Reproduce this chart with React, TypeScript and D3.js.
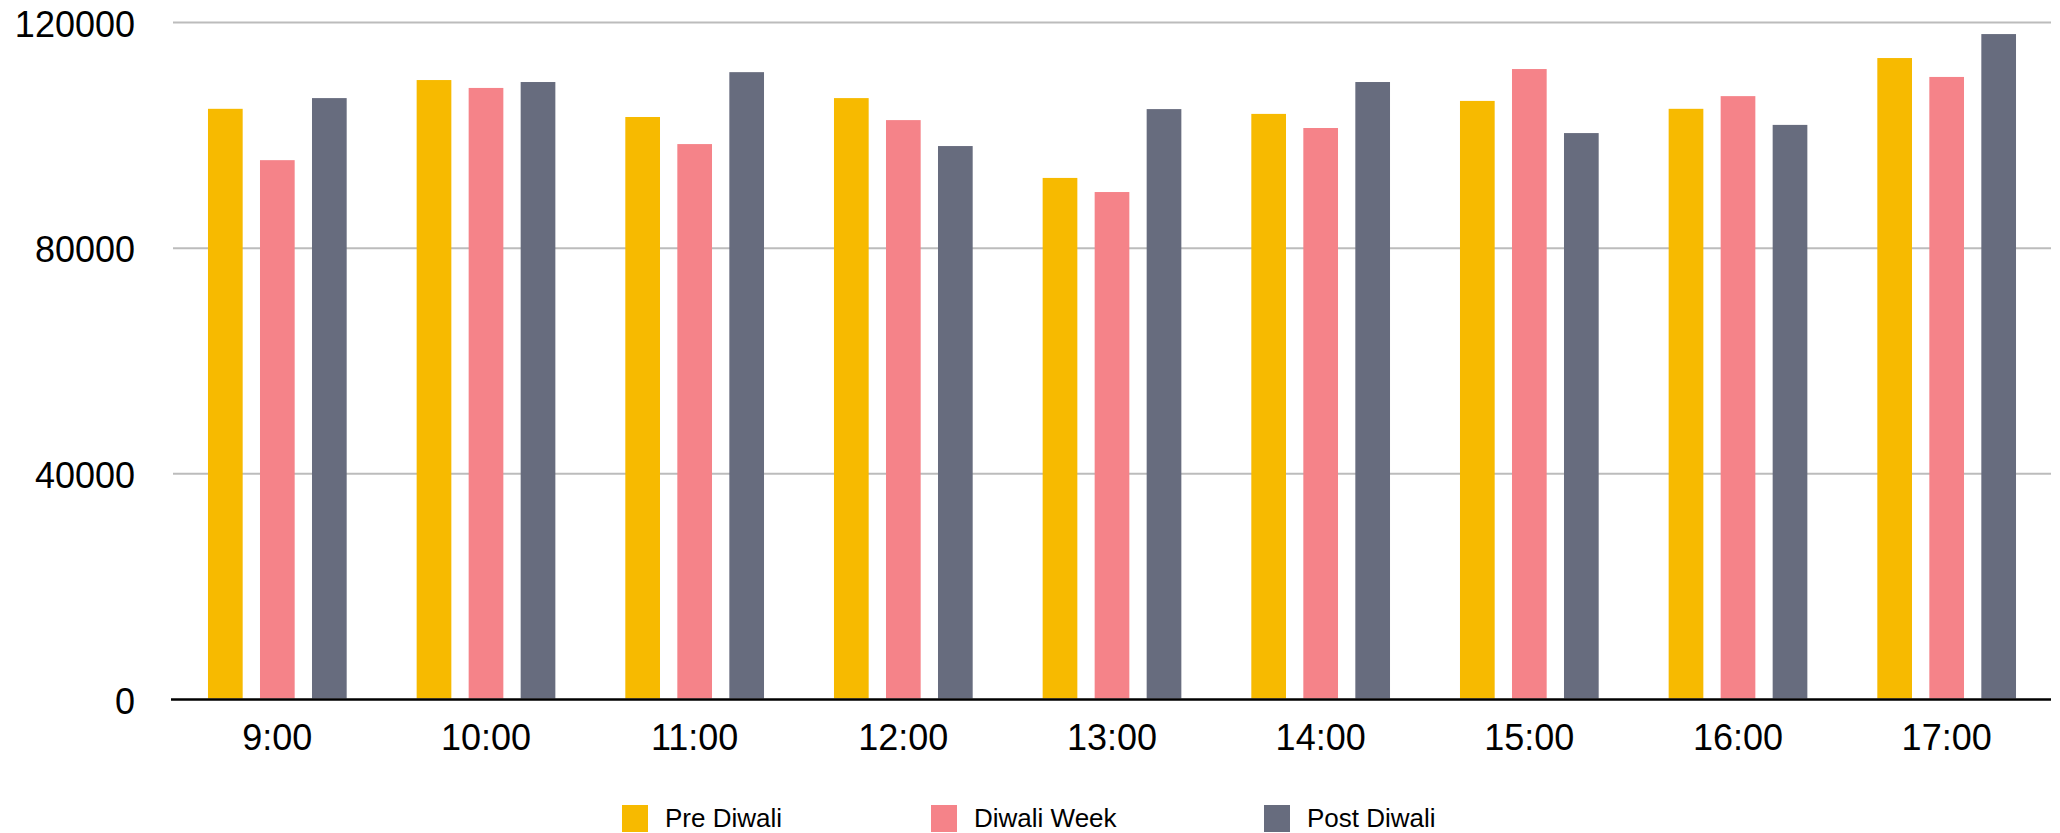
import React from "react";
import * as d3 from "d3";

const categories = ["9:00", "10:00", "11:00", "12:00", "13:00", "14:00", "15:00", "16:00", "17:00"];
const seriesNames = ["Pre Diwali", "Diwali Week", "Post Diwali"];
const preDiwali = [104700, 109800, 103250, 106600, 92450, 103800, 106100, 104700, 113700];
const diwaliWeek = [95600, 108400, 98450, 102700, 89950, 101300, 111750, 106950, 110350];
const postDiwali = [106600, 109450, 111200, 98100, 104650, 109450, 100400, 101850, 117950];
const yTicks = [0, 40000, 80000, 120000];
const colors = ["#F7BA00", "#F58389", "#676C7E"];

const W = 2060;
const H = 833;
const plotLeft = 173;
const plotRight = 2051;
const yTop = 22.5;
const yBottom = 699.5;

export default function App() {
  const seriesValues = [preDiwali, diwaliWeek, postDiwali];
  const x0 = d3.scaleBand<string>().domain(categories).range([plotLeft, plotRight]).padding(0);
  const groupW = 138.7;
  const x1 = d3.scaleBand<string>().domain(seriesNames).range([0, groupW]).paddingInner(0.333).paddingOuter(0);
  const y = d3.scaleLinear().domain([0, 120000]).range([yBottom, yTop]);
  const font = "'Liberation Sans', Arial, Helvetica, sans-serif";

  const legendX = [622, 931, 1264];

  return (
    <svg width={W} height={H} style={{ position: "absolute", left: 0, top: 0, display: "block" }} fontFamily={font}>
      <rect x={0} y={0} width={W} height={H} fill="#fff" />
      {yTicks.filter((t) => t > 0).map((t) => (
        <line key={t} x1={plotLeft} x2={plotRight} y1={y(t)} y2={y(t)} stroke="#bcbcbc" strokeWidth={2} />
      ))}
      {yTicks.map((t) => (
        <text key={"l" + t} x={135} y={y(t) + 14} textAnchor="end" fontSize={36} fill="#000">
          {t}
        </text>
      ))}
      {categories.map((c, i) => {
        const gx = (x0(c) as number) + x0.bandwidth() / 2 - groupW / 2;
        return (
          <g key={c}>
            {seriesNames.map((s, k) => (
              <rect
                key={s}
                x={gx + (x1(s) as number)}
                width={x1.bandwidth()}
                y={y(seriesValues[k][i])}
                height={yBottom - 1 - y(seriesValues[k][i])}
                fill={colors[k]}
              />
            ))}
            <text x={(x0(c) as number) + x0.bandwidth() / 2} y={750} textAnchor="middle" fontSize={36} fill="#000">
              {c}
            </text>
          </g>
        );
      })}
      <line x1={171} x2={plotRight} y1={yBottom} y2={yBottom} stroke="#000" strokeWidth={2.3} />
      {seriesNames.map((s, k) => (
        <g key={"lg" + s}>
          <rect x={legendX[k]} y={805} width={26} height={27} fill={colors[k]} />
          <text x={legendX[k] + 43} y={827} fontSize={26} fill="#000">
            {s}
          </text>
        </g>
      ))}
    </svg>
  );
}
